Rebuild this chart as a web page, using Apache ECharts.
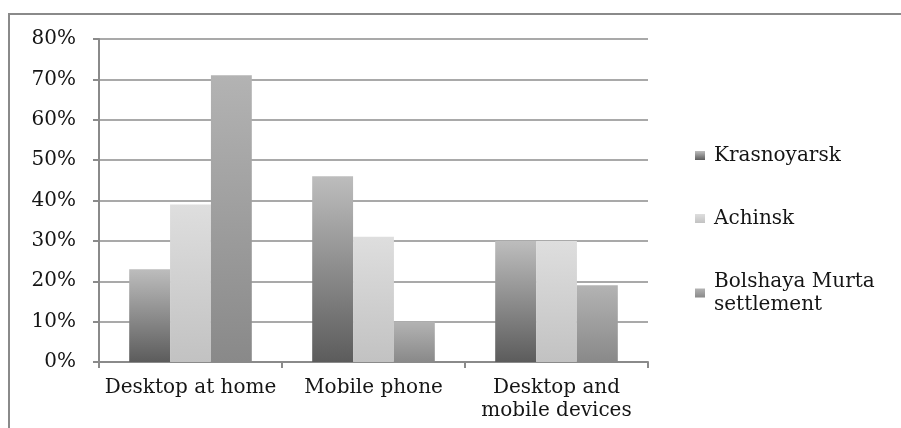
<!DOCTYPE html>
<html>
<head>
<meta charset="utf-8">
<script src="https://cdn.jsdelivr.net/npm/echarts@6/dist/echarts.min.js"></script>
<style>
  html, body { margin: 0; padding: 0; background: #fff; }
  #chart { width: 901px; height: 428px; }
</style>
</head>
<body>
<div id="chart"></div>
<script>
var categories = ['Desktop at home', 'Mobile phone', 'Desktop and\nmobile devices']
var krasnoyarsk = [23, 46, 30]
var achinsk = [39, 31, 30]
var bolshayaMurta = [71, 10, 19]
var yTicks = [0, 10, 20, 30, 40, 50, 60, 70, 80]

function grad (top, bottom) {
  return new echarts.graphic.LinearGradient(0, 0, 0, 1, [
    { offset: 0, color: top },
    { offset: 1, color: bottom }
  ])
}

var chart = echarts.init(document.getElementById('chart'))
var font = 'DejaVu Serif'
var option = {
  animation: false,
  graphic: [{
    type: 'rect',
    shape: { x: 9, y: 14, width: 900, height: 430 },
    style: { fill: 'none', stroke: '#8a8a8a', lineWidth: 2 }
  }],
  grid: { left: 99, top: 39, width: 549, height: 323 },
  legend: {
    orient: 'vertical',
    left: 695,
    top: 144,
    padding: 0,
    itemWidth: 10,
    itemHeight: 9,
    itemGap: 40,
    icon: 'rect',
    textStyle: { fontFamily: font, fontSize: 20, color: '#151515', lineHeight: 23, padding: [0, 0, 0, 4] },
    data: ['Krasnoyarsk', 'Achinsk', 'Bolshaya Murta\nsettlement']
  },
  xAxis: {
    type: 'category',
    data: categories,
    axisLine: { lineStyle: { color: '#8a8a8a', width: 2 } },
    axisTick: { show: true, length: 6, lineStyle: { color: '#8a8a8a', width: 2 } },
    axisLabel: { interval: 0, fontFamily: font, fontSize: 20, color: '#151515', margin: 14, lineHeight: 23 }
  },
  yAxis: {
    type: 'value',
    min: yTicks[0],
    max: yTicks[yTicks.length - 1],
    interval: 10,
    axisLine: { show: true, lineStyle: { color: '#8a8a8a', width: 2 } },
    axisTick: { show: true, length: 6, lineStyle: { color: '#8a8a8a', width: 2 } },
    splitLine: { lineStyle: { color: '#8c8c8c', width: 1.5 } },
    axisLabel: { fontFamily: font, fontSize: 20, color: '#151515', margin: 23, formatter: '{value}%' }
  },
  series: [
    {
      name: 'Krasnoyarsk',
      type: 'bar',
      data: krasnoyarsk,
      barGap: '0%',
      barCategoryGap: '33%',
      itemStyle: { color: grad('#bdbdbd', '#5c5c5c') }
    },
    {
      name: 'Achinsk',
      type: 'bar',
      data: achinsk,
      itemStyle: { color: grad('#dedede', '#c2c2c2') }
    },
    {
      name: 'Bolshaya Murta\nsettlement',
      type: 'bar',
      data: bolshayaMurta,
      itemStyle: { color: grad('#b3b3b3', '#898989') }
    }
  ]
}
chart.setOption(option)
</script>
</body>
</html>
